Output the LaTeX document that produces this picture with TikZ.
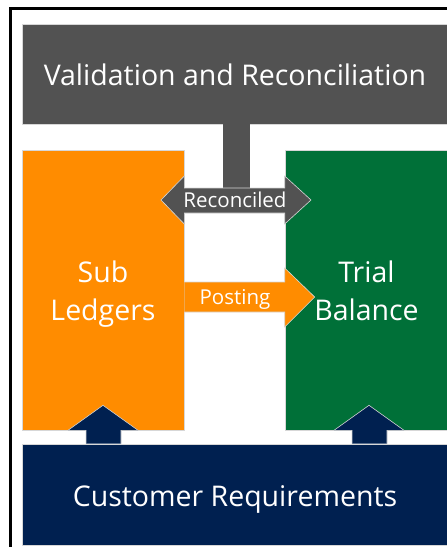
\documentclass[tikz,border=0pt]{standalone}
\usepackage{fontspec}
\setmainfont{Open Sans}
\usetikzlibrary{calc}

\definecolor{slate}{RGB}{82,82,82}
\definecolor{amber}{RGB}{255,140,0}
\definecolor{forest}{RGB}{0,112,56}
\definecolor{navy}{RGB}{0,32,80}
\definecolor{edge}{RGB}{215,215,215}

\newcommand{\topstrut}{\rule[-11.4pt]{0pt}{46pt}}

\tikzset{
	block/.style={draw=edge,line width=0.6pt,text=white,align=center,inner sep=0pt,font=\fontsize{28.5}{38}\selectfont},
	band/.style={draw=edge,line width=0.6pt},
	tag/.style={text=white,inner sep=0pt,font=\fontsize{20.5}{24}\selectfont}
}

\begin{document}
\begin{tikzpicture}[x=1pt,y=-1pt]
		\useasboundingbox (0,0) rectangle (447,547);
		\clip (0,0) rectangle (447,547);
		\draw[line width=3pt] (10.5,8.5) rectangle (480,580);
		\node[block,fill=slate,minimum width=426pt,minimum height=100pt] (valid) at (235,74) {\topstrut Validation and Reconciliation};
		\node[block,fill=amber,minimum width=162pt,minimum height=280pt] (sub) at (103,290) {\topstrut Sub\\Ledgers\strut};
		\node[block,fill=forest,minimum width=163pt,minimum height=280pt] (trial) at (366.5,290) {\topstrut Trial\\Balance\strut};
		\node[block,fill=navy,minimum width=426pt,minimum height=101pt] (cust) at (235,494.5) {\topstrut Customer Requirements};
		% reconciled
		\fill[slate] ($(valid.south)+(-12,0)$) rectangle ($(valid.south)+(15,70)$);
		\draw[band,fill=slate] (161,200) -- (sub.east |- 0,176) -- (sub.east |- 0,188) -- (trial.west |- 0,188) -- (trial.west |- 0,176) -- (311,200) -- (trial.west |- 0,224) -- (trial.west |- 0,213) -- (sub.east |- 0,213) -- (sub.east |- 0,224) -- cycle;
		\node[tag] (recon) at (235,200) {Reconciled};
		% posting
		\draw[band,fill=amber] ($(sub.east)+(0,-8)$) -- ($(trial.west)+(0,-8)$) -- ($(trial.west)+(0,-22)$) -- ($(trial.west)+(30,7)$) -- ($(trial.west)+(0,37)$) -- ($(trial.west)+(0,22)$) -- ($(sub.east)+(0,22)$);
		\node[tag] (post) at (235,299) {Posting};
		% requirements
		\draw[band,fill=navy] ($(cust.north)+(-149,0)$) -- ($(sub.south)+(-17,0)$) -- ($(sub.south)+(-35,0)$) -- ($(sub.south)+(0,-25)$) -- ($(sub.south)+(35,0)$) -- ($(sub.south)+(18,0)$) -- ($(cust.north)+(-114,0)$);
		\draw[band,fill=navy] ($(cust.north)+(117,0)$) -- ($(trial.south)+(-14.5,0)$) -- ($(trial.south)+(-32.5,0)$) -- ($(trial.south)+(2.5,-25)$) -- ($(trial.south)+(37.5,0)$) -- ($(trial.south)+(20.5,0)$) -- ($(cust.north)+(152,0)$);
	\end{tikzpicture}
\end{document}
